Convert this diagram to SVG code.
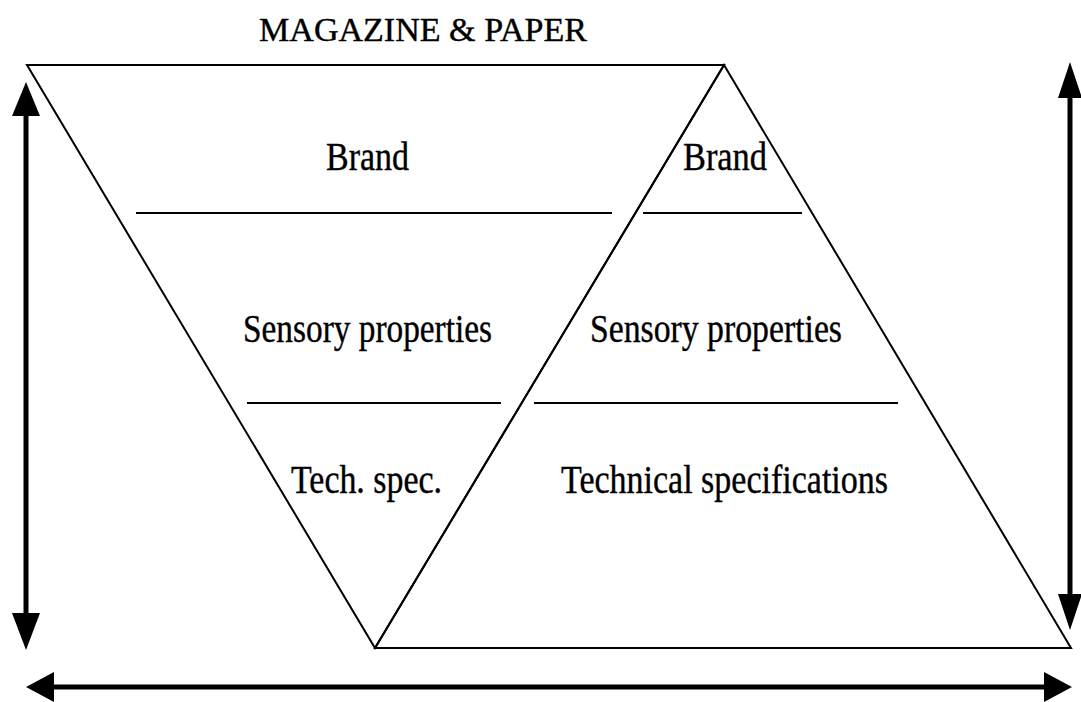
<svg xmlns="http://www.w3.org/2000/svg" width="1081" height="702" viewBox="0 0 1081 702">
  <style>
    .edge { fill: none; stroke: #000; stroke-width: 2; }
    .axis { fill: none; stroke: #000; stroke-width: 5; }
    .head { fill: #000; stroke: none; }
    text { font-family: "Liberation Serif", "Times New Roman", serif; fill: #000; stroke: #000; stroke-width: 0.4; text-anchor: middle; }
    .lbl { font-size: 40px; }
    .title { font-size: 34px; }
  </style>
  <rect width="1081" height="702" fill="#fff"/>

  <text id="title" class="title" x="423" y="41" textLength="328" lengthAdjust="spacingAndGlyphs">MAGAZINE &amp; PAPER</text>

  <!-- inverted triangle: magazine -->
  <g id="magazine">
    <polygon class="edge" points="27,65 724,65 375,648"/>
    <line class="edge" x1="136" y1="213" x2="612" y2="213"/>
    <line class="edge" x1="247" y1="403" x2="501" y2="403"/>
    <text class="lbl" x="367.5" y="170" textLength="83" lengthAdjust="spacingAndGlyphs">Brand</text>
    <text class="lbl" x="367.5" y="342" textLength="249" lengthAdjust="spacingAndGlyphs">Sensory properties</text>
    <text class="lbl" x="366.5" y="493" textLength="151" lengthAdjust="spacingAndGlyphs">Tech. spec.</text>
  </g>

  <!-- upright triangle: paper -->
  <g id="paper">
    <polygon class="edge" points="724,65 1071,648 375,648"/>
    <line class="edge" x1="643" y1="213" x2="802" y2="213"/>
    <line class="edge" x1="534" y1="403" x2="898" y2="403"/>
    <text class="lbl" x="725" y="170" textLength="84" lengthAdjust="spacingAndGlyphs">Brand</text>
    <text class="lbl" x="716" y="342" textLength="252" lengthAdjust="spacingAndGlyphs">Sensory properties</text>
    <text class="lbl" x="724.5" y="493" textLength="327" lengthAdjust="spacingAndGlyphs">Technical specifications</text>
  </g>

  <!-- double-headed axes -->
  <g id="connectors">
    <line class="axis" x1="26" y1="110" x2="26" y2="620"/>
    <polygon class="head" points="26,82 12,116 40,116"/>
    <polygon class="head" points="26,650 12,613 40,613"/>

    <line class="axis" x1="1070" y1="92" x2="1070" y2="600"/>
    <polygon class="head" points="1070,62 1058,98 1082,98"/>
    <polygon class="head" points="1070,630 1058,594 1082,594"/>

    <line class="axis" x1="50" y1="687" x2="1048" y2="687"/>
    <polygon class="head" points="26,687 54,672 54,702"/>
    <polygon class="head" points="1072,687 1044,672 1044,702"/>
  </g>
</svg>
